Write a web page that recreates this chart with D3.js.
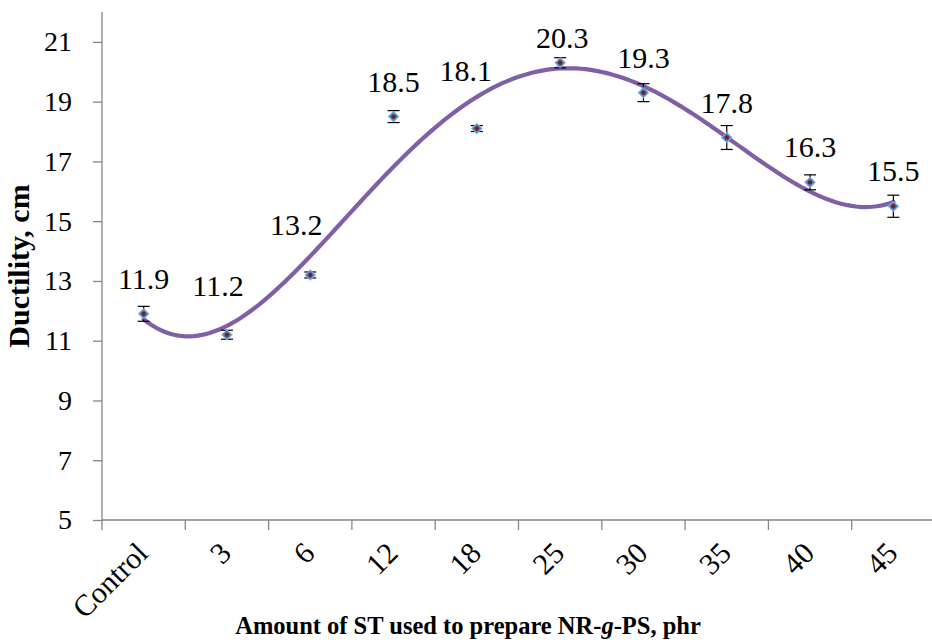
<!DOCTYPE html>
<html><head><meta charset="utf-8">
<script src="https://cdn.jsdelivr.net/npm/d3@7"></script>
<style>body{margin:0;background:#fff;} svg{display:block;}</style>
</head><body>
<svg id="chart" width="932" height="643"></svg>
<script>
const categories = ["Control","3","6","12","18","25","30","35","40","45"];
const ductility = [11.9,11.2,13.2,18.5,18.1,20.3,19.3,17.8,16.3,15.5];
const errors = [0.25,0.15,0.1,0.2,0.1,0.17,0.3,0.4,0.25,0.37];
const labels = ["11.9","11.2","13.2","18.5","18.1","20.3","19.3","17.8","16.3","15.5"];
const yTicks = [5,7,9,11,13,15,17,19,21];
const trendOrder = 4;

function polyfit(xs, ys, order){
  const m = xs.length, c = 5.5, s = 4.5;
  const t = xs.map(v => (v - c) / s);
  const n = order + 1;
  const A = Array.from({length:n}, () => new Array(n+1).fill(0));
  for (let i=0;i<m;i++){
    for (let r=0;r<n;r++){
      for (let k=0;k<n;k++) A[r][k] += Math.pow(t[i], r+k);
      A[r][n] += ys[i]*Math.pow(t[i], r);
    }
  }
  for (let col=0; col<n; col++){
    let p = col;
    for (let r=col+1;r<n;r++) if (Math.abs(A[r][col])>Math.abs(A[p][col])) p=r;
    [A[col],A[p]] = [A[p],A[col]];
    for (let r=0;r<n;r++){ if (r===col) continue;
      const f = A[r][col]/A[col][col];
      for (let k=col;k<=n;k++) A[r][k] -= f*A[col][k];
    }
  }
  const coef = A.map((row,i)=>row[n]/row[i]);
  return v => { const tt=(v-c)/s; let r=0; for (let i=n-1;i>=0;i--) r=r*tt+coef[i]; return r; };
}

(function(){
const svg = d3.select("#chart");
const L = 102, R = 935, T = 12, B = 520;
const x = d3.scaleBand().domain(categories).range([L, R]);
const y = d3.scaleLinear().domain([5,22]).range([B, T]);
const xi = d3.scaleLinear().domain([1,10]).range([x(categories[0])+x.bandwidth()/2, x(categories[9])+x.bandwidth()/2]);
const axisColor = "#868686";
const serif = "'Liberation Serif','Times New Roman',serif";

// label placement nudges (layout only), by category
const nudge = {"3":[-9,-14], "6":[-14,-15], "18":[-11,-23], "25":[2,10]};

// y axis
const yAxis = svg.append("g").attr("transform",`translate(${L},0)`)
  .call(d3.axisLeft(y).tickValues(yTicks).tickSize(9).tickPadding(21).tickFormat(d3.format("d")));
yAxis.select(".domain").attr("stroke",axisColor).attr("stroke-width",1.3).attr("d",`M0,${B}V${T}`);
yAxis.selectAll(".tick line").attr("stroke",axisColor).attr("stroke-width",1.3);
yAxis.selectAll(".tick text").attr("font-family",serif).attr("font-size",28).attr("fill","#000");

// x axis
const xg = svg.append("g").attr("transform",`translate(0,${B})`);
xg.append("line").attr("x1",L).attr("x2",932).attr("y1",0).attr("y2",0).attr("stroke",axisColor).attr("stroke-width",1.3);
const bounds = categories.map(c => x(c));
xg.selectAll("line.tk").data(bounds).join("line").attr("class","tk")
  .attr("x1",d=>d).attr("x2",d=>d).attr("y1",0).attr("y2",10).attr("stroke",axisColor).attr("stroke-width",1.3);
xg.selectAll("text.xl").data(categories).join("text").attr("class","xl")
  .attr("transform",d=>`translate(${x(d)+x.bandwidth()/2+6},${35}) rotate(-45)`)
  .attr("text-anchor","end").attr("font-family",serif)
  .attr("font-size",30).attr("fill","#000").text(d=>d);

// polynomial trendline
const idx = d3.range(1,11);
const samples = d3.range(1,10.001,0.05);
const f = polyfit(idx, ductility, trendOrder);
svg.append("path").datum(samples).attr("fill","none").attr("stroke","#7F60A6").attr("stroke-width",4.2)
  .attr("stroke-linecap","round")
  .attr("d", d3.line().x(d=>xi(d)).y(d=>y(f(d))));

// error bars
const cx = i => x(categories[i]) + x.bandwidth()/2;
const eb = svg.append("g");
ductility.forEach((v,i)=>{
  const px = cx(i), e = errors[i];
  eb.append("line").attr("x1",px).attr("x2",px).attr("y1",y(v+e)).attr("y2",y(v-e)).attr("stroke","#000").attr("stroke-width",1.2);
  [v+e, v-e].forEach(w=> eb.append("line").attr("x1",px-6).attr("x2",px+6).attr("y1",y(w)).attr("y2",y(w)).attr("stroke","#000").attr("stroke-width",1.2));
});

// markers
svg.append("g").selectAll("path").data(ductility).join("path")
  .attr("transform",(d,i)=>`translate(${cx(i)},${y(d)}) rotate(45)`)
  .attr("d", d3.symbol().type(d3.symbolSquare).size(52)())
  .attr("fill","#4F81BD").attr("stroke","#7AAEE6").attr("stroke-width",1);
svg.append("g").selectAll("circle").data(ductility).join("circle")
  .attr("cx",(d,i)=>cx(i)).attr("cy",d=>y(d)).attr("r",2.2).attr("fill","#7B1E1E");

// data labels
svg.append("g").selectAll("text").data(labels).join("text")
  .attr("x",(d,i)=>cx(i) + (nudge[categories[i]]||[0,0])[0])
  .attr("y",(d,i)=>y(ductility[i]) - 25 + (nudge[categories[i]]||[0,0])[1])
  .attr("text-anchor","middle").attr("font-family",serif)
  .attr("font-size",30).attr("fill","#000").text(d=>d);

// axis titles
svg.append("text").attr("x",468).attr("y",634).attr("text-anchor","middle")
  .attr("font-family",serif).attr("font-weight","bold").attr("font-size",24.5)
  .html('Amount of ST used to prepare NR-<tspan font-style="italic">g</tspan>-PS, phr');
svg.append("text").attr("transform",`translate(29,${(T+B)/2}) rotate(-90)`).attr("text-anchor","middle")
  .attr("font-family",serif).attr("font-weight","bold").attr("font-size",30)
  .text("Ductility, cm");
})();
</script>
</body></html>
